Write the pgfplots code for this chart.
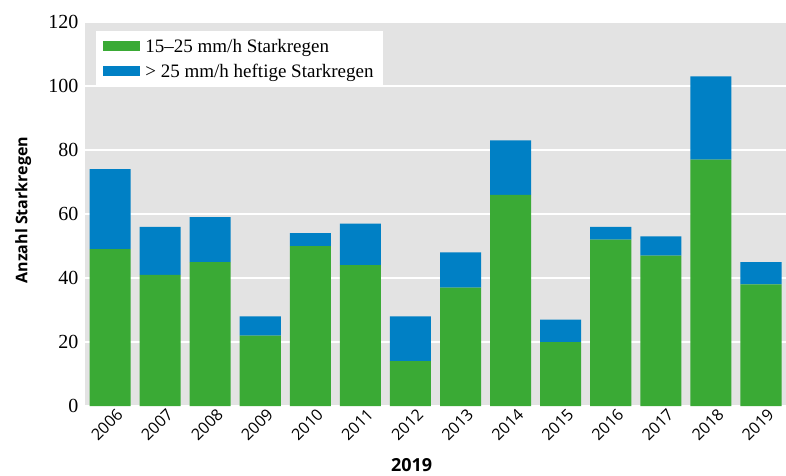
\documentclass[border=0pt]{standalone}
\usepackage{pgfplots}
\pgfplotsset{compat=1.18}
\usepackage{fontspec}
\setmainfont{Liberation Serif}
\newfontfamily\sansf{Open Sans}
\definecolor{grn}{HTML}{3AAA35}
\definecolor{blu}{HTML}{0080C5}
\definecolor{bg}{HTML}{E3E3E3}
\begin{document}
\begin{tikzpicture}
\begin{axis}[
 width=701pt, height=384pt, scale only axis,
 ybar stacked, bar width=0.82,
 xmin=-0.5, xmax=13.5, ymin=0, ymax=120,
 ytick={0,20,...,120},
 xtick={0,...,13},
 xticklabels={2006,2007,2008,2009,2010,2011,2012,2013,2014,2015,2016,2017,2018,2019},
 axis background/.style={fill=bg},
 axis line style={draw=none},
 ymajorgrids, grid style={white, line width=1.3pt},
 major tick length=0pt,
 x tick label style={rotate=45, anchor=north east, font=\sansf\fontsize{16}{16}\selectfont, xshift=4pt, yshift=-4pt, inner sep=1pt},
 y tick label style={font=\fontsize{20}{20}\selectfont, xshift=-3pt},
 /pgf/number format/assume math mode=true,
 xlabel={2019},
 xlabel style={at={(axis description cs:0.466,0)}, anchor=center, yshift=-59pt, font=\sansf\bfseries\fontsize{18}{18}\selectfont},
 ylabel={Anzahl Starkregen},
 ylabel style={at={(axis description cs:-0.088,0.51)}, anchor=center, font=\sansf\bfseries\fontsize{16}{16}\selectfont},
 legend style={at={(axis description cs:0.016,0.977)}, anchor=north west, draw=none, fill=white,
   font=\fontsize{19}{19}\selectfont, inner xsep=7pt, inner ysep=6pt, row sep=6pt, column sep=3pt,
   legend cell align=left},
 legend image code/.code={\fill[#1] (0pt,-5pt) rectangle (37pt,5pt);},
]
\addplot[fill=grn, draw=none] coordinates {(0,49) (1,41) (2,45) (3,22) (4,50) (5,44) (6,14) (7,37) (8,66) (9,20) (10,52) (11,47) (12,77) (13,38)};
\addplot[fill=blu, draw=none] coordinates {(0,25) (1,15) (2,14) (3,6) (4,4) (5,13) (6,14) (7,11) (8,17) (9,7) (10,4) (11,6) (12,26) (13,7)};
\legend{15--25 mm/h Starkregen, > 25 mm/h heftige Starkregen}
\end{axis}
\pgfresetboundingbox
\path ([xshift=-85pt,yshift=-69pt]current axis.south west) rectangle ([yshift=22pt]current axis.north east);
\end{tikzpicture}
\end{document}
